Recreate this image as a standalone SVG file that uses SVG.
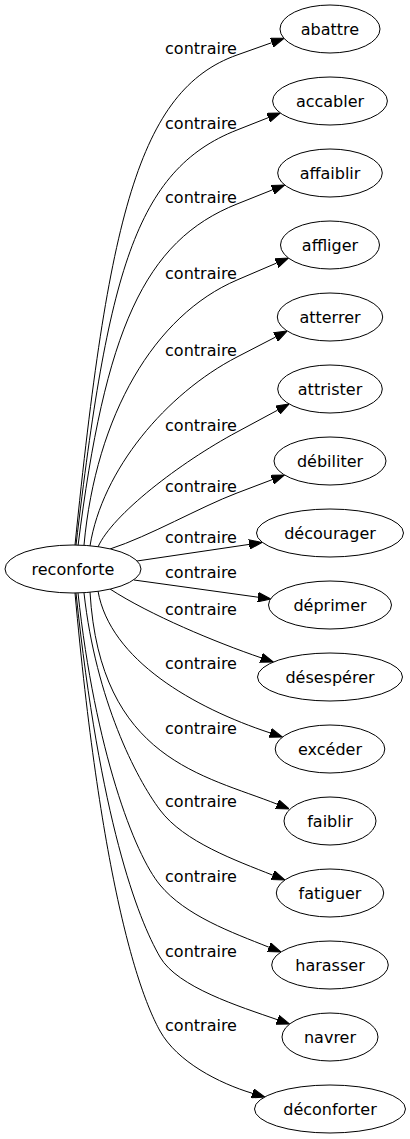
<svg xmlns="http://www.w3.org/2000/svg" width="410" height="1139" viewBox="0 0 410 1139">
<style>
.n{fill:#fff;stroke:#000;stroke-width:1}
.t{font-family:"DejaVu Sans",sans-serif;font-size:16px;fill:#000;text-anchor:middle}
.e{fill:none;stroke:#000;stroke-width:1;marker-end:url(#ah)}
</style>
<defs>
<marker id="ah" viewBox="0 0 13 10" refX="0" refY="5" markerWidth="13" markerHeight="10" markerUnits="userSpaceOnUse" orient="auto"><path d="M0,0.3 L13,5 L0,9.7 z" fill="#000" stroke="#000" stroke-width="1"/></marker>
</defs>
<rect width="410" height="1139" fill="#fff"/>
<g id="edges">
<path class="e" d="M75,545 C108,220 138.1,90.2 237,55 L271.7,42.7"/>
<path class="e" d="M76,545 C108,275 134.6,170.2 237,130 L268.2,117.7"/>
<path class="e" d="M78,546 C105,330 144.1,241 237,204 L272.6,189.8"/>
<path class="e" d="M84,545 C96,415 154.3,315.4 237,280 L276.5,263.1"/>
<path class="e" d="M90,546 C102,470 166,393.8 237,357 L275.7,337"/>
<path class="e" d="M98,547 C112,515 179.7,462.7 237,432 L277.7,410.1"/>
<path class="e" d="M110,549 C150,536 199.6,507.2 237,493 L272.3,479.6"/>
<path class="e" d="M137,561 L249.2,544.4"/>
<path class="e" d="M134,580 L258,597.2"/>
<path class="e" d="M110,589 C150,615 215.7,642.3 261.1,657.8"/>
<path class="e" d="M98,591 C110,660 194.1,707.9 270.1,732.9"/>
<path class="e" d="M90,592 C100,760 204.8,775.3 277.2,804.2"/>
<path class="e" d="M84,593 C96,700 136,778 160,810 C184,842 235.7,860.4 272.8,875.2"/>
<path class="e" d="M78,593 C95,750 134.4,854.2 160,885 C185.6,915.8 231.8,932.4 268.9,947.2"/>
<path class="e" d="M76,593 C100,820 137.5,918 160,957 C177.5,987.3 239.6,1006.5 277.4,1019.7"/>
<path class="e" d="M75,593 C100,870 135.7,987.3 160,1031 C177,1061.6 218.9,1083.3 252.4,1093.3"/>
</g>
<g id="edge-labels">
<text class="t" x="201" y="54">contraire</text>
<text class="t" x="201" y="129">contraire</text>
<text class="t" x="201" y="203">contraire</text>
<text class="t" x="201" y="279">contraire</text>
<text class="t" x="201" y="356">contraire</text>
<text class="t" x="201" y="431">contraire</text>
<text class="t" x="201" y="492">contraire</text>
<text class="t" x="201" y="543">contraire</text>
<text class="t" x="201" y="578">contraire</text>
<text class="t" x="201" y="615">contraire</text>
<text class="t" x="201" y="669">contraire</text>
<text class="t" x="201" y="734">contraire</text>
<text class="t" x="201" y="807">contraire</text>
<text class="t" x="201" y="882">contraire</text>
<text class="t" x="201" y="957">contraire</text>
<text class="t" x="201" y="1031">contraire</text>
</g>
<g id="reconforte"><ellipse class="n" cx="73" cy="569" rx="68" ry="24"/><text class="t" x="73" y="574.5">reconforte</text></g>
<g id="abattre"><ellipse class="n" cx="330" cy="29" rx="50" ry="24"/><text class="t" x="330" y="34.5">abattre</text></g>
<g id="accabler"><ellipse class="n" cx="330" cy="101" rx="57.4" ry="24"/><text class="t" x="330" y="106.5">accabler</text></g>
<g id="affaiblir"><ellipse class="n" cx="330" cy="173" rx="52.3" ry="24"/><text class="t" x="330" y="178.5">affaiblir</text></g>
<g id="affliger"><ellipse class="n" cx="330" cy="245" rx="49.5" ry="24"/><text class="t" x="330" y="250.5">affliger</text></g>
<g id="atterrer"><ellipse class="n" cx="330" cy="317" rx="52.7" ry="24"/><text class="t" x="330" y="322.5">atterrer</text></g>
<g id="attrister"><ellipse class="n" cx="330" cy="389" rx="52.3" ry="24"/><text class="t" x="330" y="394.5">attrister</text></g>
<g id="debiliter"><ellipse class="n" cx="330" cy="461" rx="56" ry="24"/><text class="t" x="330" y="466.5">débiliter</text></g>
<g id="decourager"><ellipse class="n" cx="330" cy="533" rx="73.5" ry="24"/><text class="t" x="330" y="538.5">décourager</text></g>
<g id="deprimer"><ellipse class="n" cx="330" cy="605" rx="61.5" ry="24"/><text class="t" x="330" y="610.5">déprimer</text></g>
<g id="desesperer"><ellipse class="n" cx="330" cy="677" rx="72.5" ry="24"/><text class="t" x="330" y="682.5">désespérer</text></g>
<g id="exceder"><ellipse class="n" cx="330" cy="749" rx="54.8" ry="24"/><text class="t" x="330" y="754.5">excéder</text></g>
<g id="faiblir"><ellipse class="n" cx="330" cy="821" rx="46" ry="24"/><text class="t" x="330" y="826.5">faiblir</text></g>
<g id="fatiguer"><ellipse class="n" cx="330" cy="893" rx="53.7" ry="24"/><text class="t" x="330" y="898.5">fatiguer</text></g>
<g id="harasser"><ellipse class="n" cx="330" cy="965" rx="58.3" ry="24"/><text class="t" x="330" y="970.5">harasser</text></g>
<g id="navrer"><ellipse class="n" cx="330" cy="1037" rx="48" ry="24"/><text class="t" x="330" y="1042.5">navrer</text></g>
<g id="deconforter"><ellipse class="n" cx="330" cy="1109" rx="75.5" ry="24"/><text class="t" x="330" y="1114.5">déconforter</text></g>
</svg>
